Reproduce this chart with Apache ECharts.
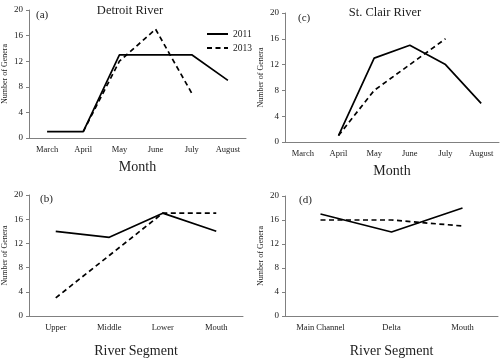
<!DOCTYPE html>
<html><head><meta charset="utf-8">
<script src="https://cdn.jsdelivr.net/npm/echarts@6/dist/echarts.min.js"></script>
<style>html,body{margin:0;padding:0;background:#fff}#c{width:500px;height:359px}</style>
</head><body><div id="c"></div>
<script>
var months = ['March','April','May','June','July','August'];
var segmentsDetroit = ['Upper','Middle','Lower','Mouth'];
var segmentsStClair = ['Main Channel','Delta','Mouth'];
var yTicks = [0,4,8,12,16,20];

var detroitMonth2011 = [1,1,13,13,13,9];
var detroitMonth2013 = [null,1,12,17,7,null];
var stclairMonth2011 = [null,1,13,15,12,6];
var stclairMonth2013 = [null,1,8,12,16,null];
var detroitSeg2011 = [14,13,17,14];
var detroitSeg2013 = [3,10,17,17];
var stclairSeg2011 = [17,14,18];
var stclairSeg2013 = [16,16,15];

var FONT = 'Liberation Serif';
var axisColor = '#808080';
var grids = [
  {left:27, top:10, width:219, height:128},
  {left:26, top:195, width:217, height:127},
  {left:285, top:13, width:214, height:129},
  {left:285, top:196, width:213, height:127}
];
var xcats = [months, segmentsDetroit, months, segmentsStClair];
var xnames = ['Month','River Segment','Month','River Segment'];
function xAxis(i){
  return {type:'category', gridIndex:i, data:xcats[i], boundaryGap:true,
    name:xnames[i], nameLocation:'middle', nameGap: i%2===0 ? 22 : 28,
    nameTextStyle:{fontFamily:FONT, fontSize:14, color:'#222'},
    axisLine:{lineStyle:{color:axisColor, width:1}},
    axisTick:{inside:true, length:3, lineStyle:{color:axisColor}},
    axisLabel:{fontFamily:FONT, fontSize:8.5, color:'#222', margin:7, interval:0}};
}
function yAxis(i){
  return {type:'value', gridIndex:i, min:yTicks[0], max:yTicks[yTicks.length-1], interval:yTicks[1]-yTicks[0],
    name:'Number of Genera', nameLocation:'middle', nameGap:20,
    nameTextStyle:{fontFamily:FONT, fontSize:8, color:'#222'},
    splitLine:{show:false},
    axisLine:{show:true, lineStyle:{color:axisColor, width:1}},
    axisTick:{show:true, length:3, lineStyle:{color:axisColor}},
    axisLabel:{fontFamily:FONT, fontSize:9, color:'#222', margin:6}};
}
function line(name, data, i, dashed){
  return {type:'line', name:name, data:data, xAxisIndex:i, yAxisIndex:i, symbol:'none',
    connectNulls:false, silent:true,
    lineStyle:{color:'#000', width:1.7, type: dashed ? [5,3.5] : 'solid'}, itemStyle:{color:'#000'}};
}
var chart = echarts.init(document.getElementById('c'), null, {renderer:'canvas'});
chart.setOption({
  animation:false,
  backgroundColor:'#fff',
  grid: grids,
  xAxis: [0,1,2,3].map(xAxis),
  yAxis: [0,1,2,3].map(yAxis),
  legend:{show:true, left:201, top:24, orient:'vertical', itemGap:4, itemWidth:21, itemHeight:10,
    itemStyle:{opacity:0, borderWidth:0},
    textStyle:{fontFamily:FONT, fontSize:9.5, color:'#222'}, data:['2011','2013'], selectedMode:false},
  title:[
    {text:'Detroit River', left:125, top:-1, textAlign:'center', textStyle:{fontFamily:FONT, fontSize:12.5, fontWeight:'normal', color:'#222'}},
    {text:'St. Clair River', left:380, top:1, textAlign:'center', textStyle:{fontFamily:FONT, fontSize:12.5, fontWeight:'normal', color:'#222'}},
    {text:'(a)', left:31, top:5, textStyle:{fontFamily:FONT, fontSize:11, fontWeight:'normal', color:'#222'}},
    {text:'(b)', left:35, top:189, textStyle:{fontFamily:FONT, fontSize:11, fontWeight:'normal', color:'#222'}},
    {text:'(c)', left:293, top:8, textStyle:{fontFamily:FONT, fontSize:11, fontWeight:'normal', color:'#222'}},
    {text:'(d)', left:294, top:190, textStyle:{fontFamily:FONT, fontSize:11, fontWeight:'normal', color:'#222'}}
  ],
  series:[
    line('2011', detroitMonth2011, 0, false),
    line('2013', detroitMonth2013, 0, true),
    line('2011', detroitSeg2011, 1, false),
    line('2013', detroitSeg2013, 1, true),
    line('2011', stclairMonth2011, 2, false),
    line('2013', stclairMonth2013, 2, true),
    line('2011', stclairSeg2011, 3, false),
    line('2013', stclairSeg2013, 3, true)
  ]
});
</script></body></html>
